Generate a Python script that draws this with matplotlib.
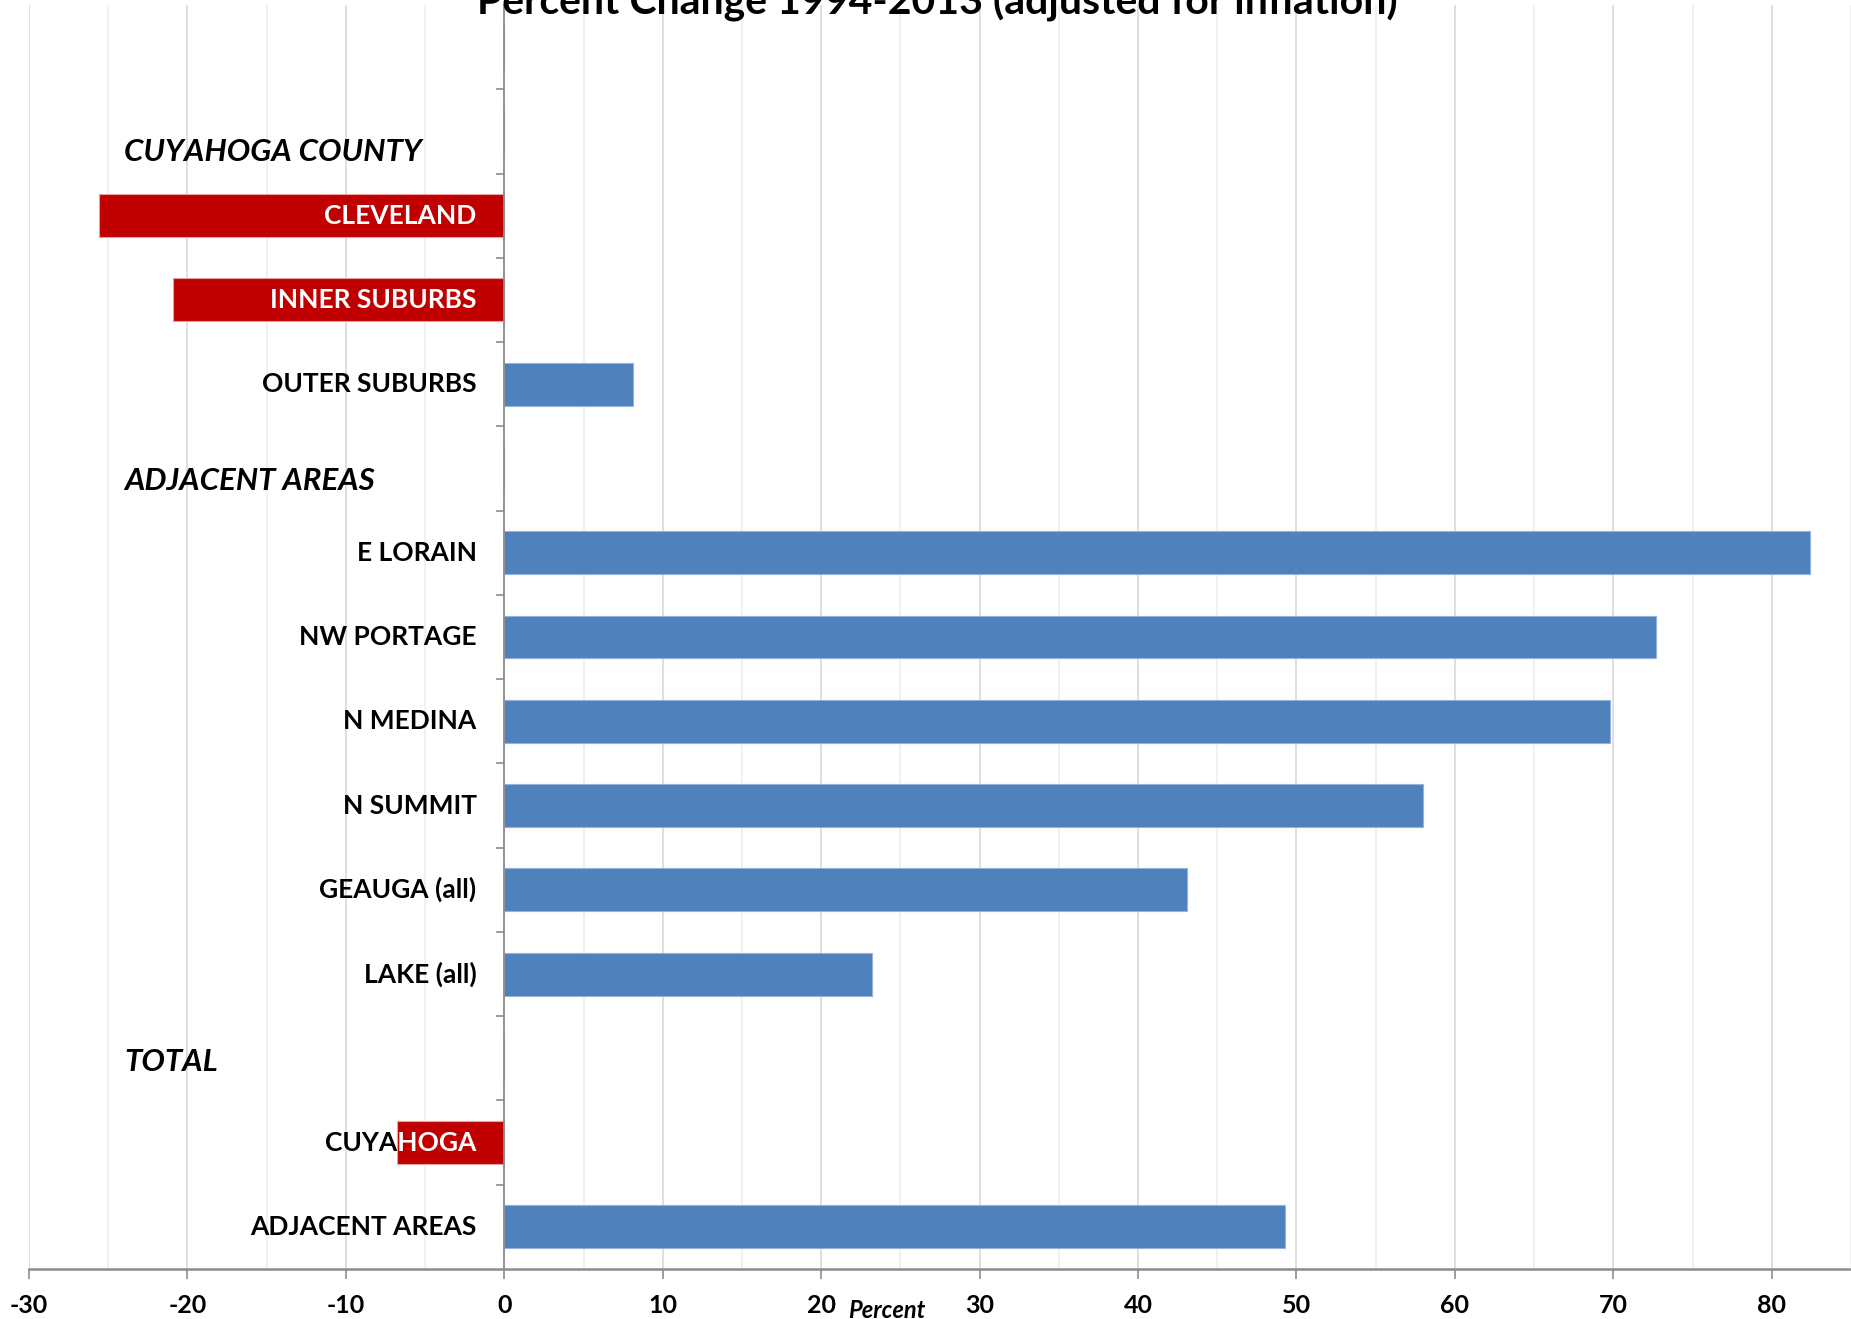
import matplotlib

matplotlib.use("Agg")
import matplotlib.pyplot as plt
import numpy as np

plt.rcParams["font.family"] = ["Lato", "DejaVu Sans"]
plt.rcParams["axes.unicode_minus"] = False

# Baris kategori (atas ke bawah); string kosong = baris judul grup
LABELS = [
    "", "", "CLEVELAND", "INNER SUBURBS", "OUTER SUBURBS", "",
    "E LORAIN", "NW PORTAGE", "N MEDINA", "N SUMMIT", "GEAUGA (all)",
    "LAKE (all)", "", "CUYAHOGA", "ADJACENT AREAS",
]
VALUES = [
    np.nan, np.nan, -25.6, -20.9, 8.1, np.nan,
    82.4, 72.7, 69.8, 58.0, 43.1,
    23.2, np.nan, -6.8, 49.3,
]
HEADERS = ["CUYAHOGA COUNTY", "ADJACENT AREAS", "TOTAL"]
HEADER_ROWS = [1.24, 5.15, 12.04]
X_TICKS = [-30, -20, -10, 0, 10, 20, 30, 40, 50, 60, 70, 80]

TITLE = "Percent Change 1994-2013 (adjusted for inflation)"
RED = "#C00000"
BLUE = "#4F81BD"

fig = plt.figure(figsize=(18.51, 13.19), dpi=100)
ax = fig.add_axes([29 / 1851, 50 / 1319, 1 - 29 / 1851, 1 - 55 / 1319])

y = np.arange(len(LABELS))
vals = np.array(VALUES, dtype=float)
colors = [RED if v < 0 else BLUE for v in np.nan_to_num(vals)]
edges = ["#E8A0A0" if v < 0 else "#95B3D7" for v in np.nan_to_num(vals)]
bars = ax.barh(y, np.nan_to_num(vals), height=0.51, color=colors,
               edgecolor=edges, linewidth=0.8, zorder=3)

ax.set_xlim(-30, 85)
ax.set_ylim(len(LABELS) - 0.5, -0.5)

# grid vertikal tiap 5, lebih tegas tiap 10
ax.set_xticks(X_TICKS)
ax.set_xticks(np.arange(-25, 90, 10), minor=True)
ax.grid(axis="x", which="major", color="#D9D9D9", linewidth=1.2, zorder=0)
ax.grid(axis="x", which="minor", color="#EFEFEF", linewidth=1.2, zorder=0)
ax.set_axisbelow(True)

ax.set_yticks(np.arange(0.5, len(LABELS) - 0.5, 1.0))
ax.set_yticklabels([])
ax.tick_params(axis="y", direction="out", length=6, width=1.2, color="#8C8C8C")
ax.tick_params(axis="x", which="major", direction="out", length=7, width=1.2,
               color="#8C8C8C", pad=11, labelsize=18)
ax.tick_params(axis="x", which="minor", length=0)
for lab in ax.get_xticklabels():
    lab.set_fontweight("bold")

ax.spines["left"].set_position(("data", 0))
ax.spines["left"].set_color("#8C8C8C")
ax.spines["left"].set_linewidth(1.3)
ax.spines["left"].set_zorder(4)
ax.spines["bottom"].set_color("#8C8C8C")
ax.spines["bottom"].set_linewidth(1.8)
ax.spines["top"].set_visible(False)
ax.spines["right"].set_visible(False)

# label kategori: hitam di bawah batang, salinan putih terpotong oleh batang
for i, (lab, bar) in enumerate(zip(LABELS, bars)):
    if not lab:
        continue
    ax.text(-1.75, i, lab, ha="right", va="center", fontsize=19,
            fontweight="bold", color="black", zorder=2)
    if vals[i] < 0:
        t = ax.text(-1.75, i, lab, ha="right", va="center", fontsize=19,
                    fontweight="bold", color="white", zorder=5, clip_on=True)
        t.set_clip_path(bar)

for name, row in zip(HEADERS, HEADER_ROWS):
    ax.text(-24.0, row, name, ha="left", va="center", fontsize=22.5,
            fontweight="bold", fontstyle="italic", color="black")

ax.text(24.15, -0.033, "Percent", transform=ax.get_xaxis_transform(),
        ha="center", va="center", fontsize=17, fontweight="bold",
        fontstyle="italic")

fig.text(937 / 1851, 1 - 14 / 1319, TITLE, ha="center", va="baseline",
         fontsize=29.5, fontweight="bold")

fig.savefig("out.png", dpi=100)
